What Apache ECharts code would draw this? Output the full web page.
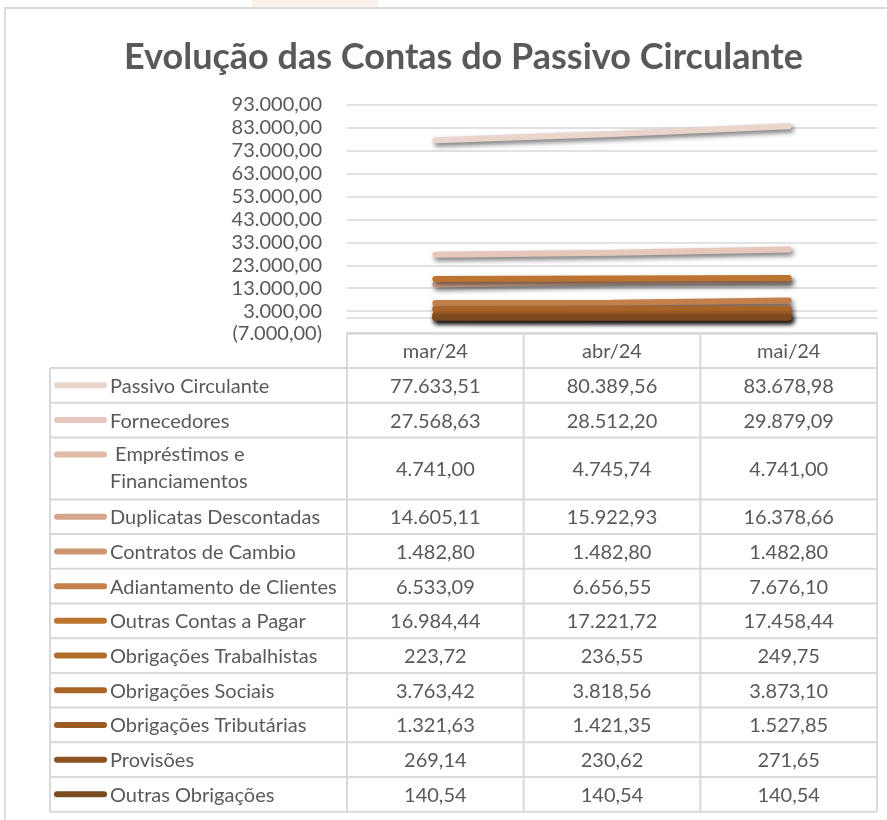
<!DOCTYPE html>
<html>
<head>
<meta charset="utf-8">
<script src="https://cdn.jsdelivr.net/npm/echarts@6/dist/echarts.min.js"></script>
<style>
  html, body { margin: 0; padding: 0; background: #fff; }
  #chart { width: 887px; height: 820px; }
</style>
</head>
<body>
<div id="chart"></div>
<script>
// dados do gráfico
var months = ['mar/24', 'abr/24', 'mai/24'];
var seriesNames = [
  'Passivo Circulante', 'Fornecedores', 'Empréstimos e Financiamentos', 'Duplicatas Descontadas',
  'Contratos de Cambio', 'Adiantamento de Clientes', 'Outras Contas a Pagar', 'Obrigações Trabalhistas',
  'Obrigações Sociais', 'Obrigações Tributárias', 'Provisões', 'Outras Obrigações'
];
var passivoCirculante = [77633.51, 80389.56, 83678.98];
var fornecedores = [27568.63, 28512.20, 29879.09];
var emprestimos = [4741.00, 4745.74, 4741.00];
var duplicatas = [14605.11, 15922.93, 16378.66];
var contratosCambio = [1482.80, 1482.80, 1482.80];
var adiantamento = [6533.09, 6656.55, 7676.10];
var outrasContas = [16984.44, 17221.72, 17458.44];
var obrigTrabalhistas = [223.72, 236.55, 249.75];
var obrigSociais = [3763.42, 3818.56, 3873.10];
var obrigTributarias = [1321.63, 1421.35, 1527.85];
var provisoes = [269.14, 230.62, 271.65];
var outrasObrigacoes = [140.54, 140.54, 140.54];
var allData = [passivoCirculante, fornecedores, emprestimos, duplicatas, contratosCambio, adiantamento,
  outrasContas, obrigTrabalhistas, obrigSociais, obrigTributarias, provisoes, outrasObrigacoes];
var colors = ['#E9D5CB', '#E5C8BB', '#DFBBA9', '#D5A68C', '#CD9672', '#C47F4A',
  '#BD7430', '#B36C2A', '#A96427', '#9A5B24', '#8C5222', '#7B4A1F'];
var yMin = -7000, yMax = 93000, yStep = 10000;

function fmt(v) {
  var s = Math.abs(v).toFixed(2).split('.');
  var r = s[0].replace(/\B(?=(\d{3})+(?!\d))/g, '.') + ',' + s[1];
  return v < 0 ? '(' + r + ')' : r;
}

var FONT = 'Lato';
var FS = 20;
var TXT = '#595959';
var BORDER = '#D9D9D9';
var gridL = 347, gridR = 877, gridT = 105, gridB = 334;
var colW = (gridR - gridL) / 3;
var tableL = 50;
var headTop = 333, headBot = 368, rowH = 34.7, dblH = 62;

// tabela de dados (abaixo do gráfico)
var graphics = [];
// fundo/borda externa
graphics.push({ type: 'rect', shape: { x: 252, y: -2, width: 126, height: 10 }, style: { fill: '#FBF1EC' }, silent: true });
graphics.push({ type: 'rect', shape: { x: 5, y: 8, width: 900, height: 830 }, style: { fill: 'none', stroke: '#DCDCDC', lineWidth: 2 }, silent: true });

function hline(x1, x2, y) {
  graphics.push({ type: 'line', shape: { x1: x1, y1: y, x2: x2, y2: y }, style: { stroke: BORDER, lineWidth: 2 }, silent: true });
}
function vline(x, y1, y2) {
  graphics.push({ type: 'line', shape: { x1: x, y1: y1, x2: x, y2: y2 }, style: { stroke: BORDER, lineWidth: 2 }, silent: true });
}
function txt(x, y, s, align) {
  graphics.push({ type: 'text', x: x, y: y, style: { text: s, font: FS + 'px ' + FONT, fill: TXT, align: align || 'center', verticalAlign: 'middle' }, silent: true });
}

// cabeçalho
hline(gridL, gridR, headTop);
hline(gridL, gridR, headBot);
for (var c = 0; c < 4; c++) vline(gridL + c * colW, headTop, headBot);
for (var c = 0; c < 3; c++) txt(gridL + (c + 0.5) * colW, (headTop + headBot) / 2 + 1, months[c]);

var y = headBot;
hline(tableL, gridR, y);
for (var i = 0; i < seriesNames.length; i++) {
  var h = i === 2 ? dblH : rowH;
  var mid = y + h / 2;
  var keyY = i === 2 ? y + 17 : mid;
  graphics.push({ type: 'line', shape: { x1: 57, y1: keyY, x2: 104, y2: keyY },
    style: { stroke: colors[i], lineWidth: 6, lineCap: 'round' }, silent: true });
  if (i === 2) {
    txt(110, y + 17, ' Empréstimos e', 'left');
    txt(110, y + 44, 'Financiamentos', 'left');
  } else {
    txt(110, mid + 1, seriesNames[i], 'left');
  }
  for (var c = 0; c < 3; c++) txt(gridL + (c + 0.5) * colW, mid + 1, fmt(allData[i][c]));
  y += h;
  hline(tableL, gridR, y);
}
vline(tableL, headBot, y);
for (var c = 0; c < 4; c++) vline(gridL + c * colW, headBot, y);

var series = seriesNames.map(function (name, i) {
  return {
    name: name,
    type: 'line',
    data: allData[i],
    symbol: 'none',
    z: 2 + i,
    lineStyle: {
      color: colors[i], width: 6, cap: 'round',
      shadowColor: 'rgba(0,0,0,0.55)', shadowBlur: 5, shadowOffsetX: 2, shadowOffsetY: 3
    },
    itemStyle: { color: colors[i] }
  };
});

var chart = echarts.init(document.getElementById('chart'));
chart.setOption({
  animation: false,
  backgroundColor: '#fff',
  title: {
    text: 'Evolução das Contas do Passivo Circulante',
    left: 119, top: 34,
    textStyle: { fontFamily: FONT, fontWeight: 'bold', fontSize: 36, color: TXT }
  },
  grid: { left: gridL, right: 887 - gridR, top: gridT, bottom: 820 - gridB },
  xAxis: {
    type: 'category',
    data: months,
    boundaryGap: true,
    axisLine: { onZero: true, lineStyle: { color: BORDER, width: 1.5 } },
    axisTick: { show: false },
    axisLabel: { show: false }
  },
  yAxis: {
    type: 'value',
    min: yMin, max: yMax, interval: yStep,
    axisLine: { show: false },
    axisTick: { show: false },
    splitLine: { lineStyle: { color: BORDER, width: 1.5 } },
    axisLabel: { formatter: fmt, fontFamily: FONT, fontSize: FS, color: TXT, margin: 25 }
  },
  series: series,
  graphic: graphics
});
</script>
</body>
</html>
